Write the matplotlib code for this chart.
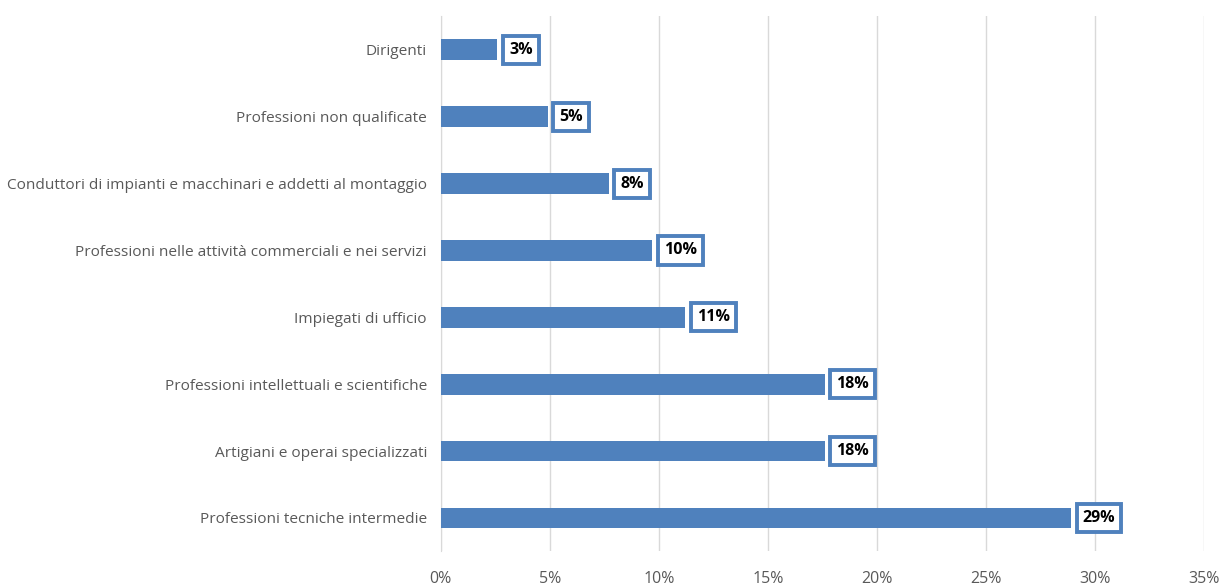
import matplotlib.pyplot as plt

# Occupational groups, bottom to top as drawn
categorie = [
    "Professioni tecniche intermedie",
    "Artigiani e operai specializzati",
    "Professioni intellettuali e scientifiche",
    "Impiegati di ufficio",
    "Professioni nelle attività commerciali e nei servizi",
    "Conduttori di impianti e macchinari e addetti al montaggio",
    "Professioni non qualificate",
    "Dirigenti",
]
quote = [28.9, 17.6, 17.6, 11.2, 9.7, 7.7, 4.9, 2.6]
xticks = [0, 5, 10, 15, 20, 25, 30, 35]

blu = "#4F81BD"
grigio = "#595959"

plt.rcParams["font.family"] = ["Open Sans", "DejaVu Sans"]

fig = plt.figure(figsize=(12.21, 5.86), dpi=100)
ax = fig.add_axes([0.361, 0.059, 0.625, 0.913])

y = range(len(categorie))
ax.barh(y, quote, height=0.31, color=blu, zorder=3)

for yi, v in zip(y, quote):
    ax.annotate(f"{v:.0f}%", xy=(v, yi), xytext=(8.5, 0), textcoords="offset points",
                ha="left", va="center", fontsize=11.5, fontweight="bold", color="black",
                bbox=dict(boxstyle="square,pad=0.38", fc="white", ec=blu, lw=2.8),
                zorder=4)

ax.set_xlim(0, 35)
ax.set_ylim(-0.5, len(categorie) - 0.5)
ax.set_xticks(xticks)
ax.set_xticklabels([f"{t}%" for t in xticks])
ax.set_yticks(list(y))
ax.set_yticklabels(categorie)

ax.xaxis.grid(True, color="#D9D9D9", lw=1, zorder=0)
for s in ["top", "right", "bottom"]:
    ax.spines[s].set_visible(False)
ax.spines["left"].set_color("#D9D9D9")
ax.tick_params(axis="both", length=0, colors=grigio)
ax.tick_params(axis="y", pad=10, labelsize=11.1)
ax.tick_params(axis="x", pad=14, labelsize=11.5)

fig.savefig("out.png", dpi=100)
